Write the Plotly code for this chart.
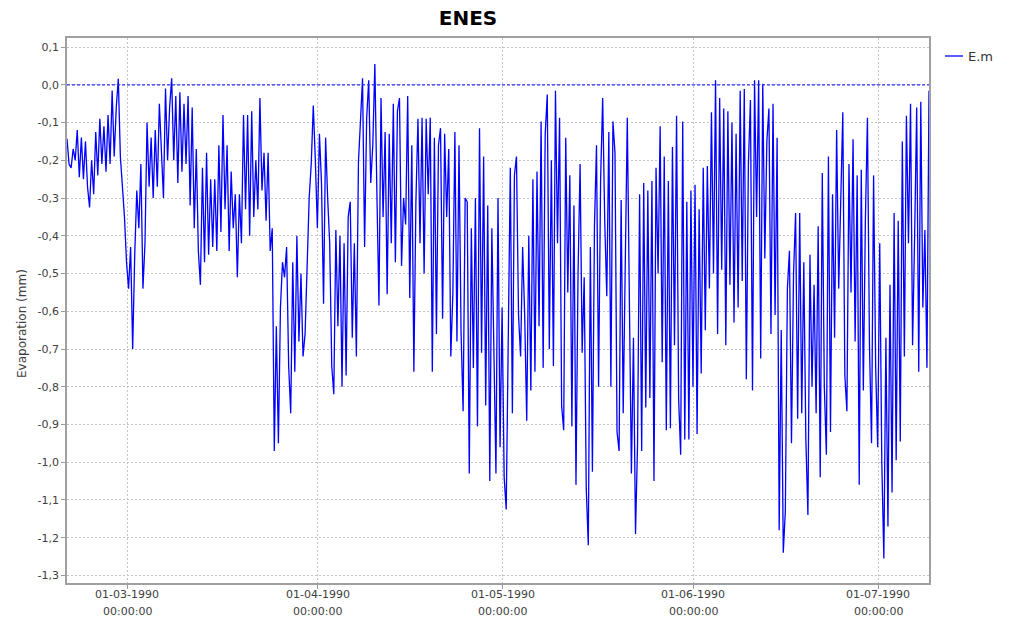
import pandas as pd
import plotly.graph_objects as go

# Evaporation series, one value every 8 hours
series_start = "1990-02-19 06:00"
step_hours = 8
series_name = "E.m"
chart_title = "ENES"
y_title = "Evaporation (mm)"

evap_mm = [
    -0.143, -0.21, -0.22, -0.17, -0.20, -0.12, -0.245, -0.14, -0.25, -0.15,
    -0.27, -0.325, -0.20, -0.29, -0.125, -0.24, -0.09, -0.21, -0.11, -0.23,
    -0.08, -0.21, -0.015, -0.19, -0.06, 0.016, -0.19, -0.26, -0.35, -0.47,
    -0.54, -0.43, -0.70, -0.45, -0.28, -0.38, -0.21, -0.54, -0.42, -0.10,
    -0.27, -0.14, -0.30, -0.12, -0.27, -0.05, -0.20, -0.30, -0.01, -0.20,
    -0.06, 0.017, -0.20, -0.03, -0.26, -0.02, -0.23, -0.05, -0.21, -0.03,
    -0.32, -0.06, -0.38, -0.17, -0.44, -0.53, -0.22, -0.47, -0.18, -0.45,
    -0.25, -0.43, -0.25, -0.44, -0.16, -0.39, -0.08, -0.33, -0.16, -0.44,
    -0.23, -0.38, -0.29, -0.51, -0.29, -0.42,
    # k = 86 ..
    -0.08, -0.33, -0.08, -0.40, -0.07, -0.35, -0.20, -0.33, -0.035, -0.28,
    -0.18, -0.36, -0.18, -0.44, -0.38, -0.97, -0.64, -0.95, -0.59, -0.47,
    -0.51, -0.43, -0.745, -0.87, -0.47, -0.76, -0.40, -0.68, -0.50, -0.72,
    -0.66, -0.47, -0.30, -0.21, -0.055, -0.20, -0.38, -0.13, -0.26, -0.58,
    -0.14, -0.30, -0.42, -0.745, -0.82, -0.385, -0.64, -0.40, -0.80, -0.42,
    -0.77, -0.35, -0.31, -0.67, -0.42, -0.72, -0.205, -0.095, 0.017, -0.43,
    -0.09, 0.012, -0.26, -0.16, 0.055, -0.29, -0.585, -0.035, -0.35, -0.125,
    -0.555, -0.13, -0.42, -0.05, -0.47, -0.07, -0.035, -0.48, -0.30, -0.37,
    -0.03, -0.565,
    # k = 168 ..
    -0.16, -0.76, -0.31, -0.09, -0.42, -0.087, -0.50, -0.09, -0.29, -0.087,
    -0.76, -0.14, -0.66, -0.16, -0.115, -0.62, -0.13, -0.35, -0.17, -0.72,
    -0.555, -0.125, -0.68, -0.16, -0.655, -0.865, -0.30, -0.31, -1.03, -0.38,
    -0.75, -0.30, -0.905, -0.115, -0.71, -0.19, -0.85, -0.32, -1.05, -0.38,
    -0.67, -1.03, -0.30, -0.96, -0.59, -1.04, -1.125, -0.60, -0.22, -0.87,
    -0.24, -0.19, -0.61, -0.72, -0.43, -0.61, -0.89, -0.40, -0.81, -0.25,
    -0.76, -0.23, -0.64, -0.097, -0.75, -0.13, -0.026, -0.70, -0.20, -0.745,
    -0.016, -0.42, -0.087, -0.85, -0.915, -0.14, -0.55, -0.24, -0.905, -0.32,
    -1.06, -0.50, -0.21,
    # k = 251 ..
    -0.71, -0.51, -1.07, -1.22, -0.43, -1.025, -0.375, -0.16, -0.80, -0.25,
    -0.035, -0.36, -0.56, -0.125, -0.80, -0.097, -0.18, -0.92, -0.97, -0.305,
    -0.87, -0.42, -0.087, -0.565, -1.03, -0.67, -1.19, -0.95, -0.29, -0.97,
    -0.26, -0.855, -0.28, -0.83, -0.255, -1.05, -0.22, -0.50, -0.11, -0.735,
    -0.19, -0.915, -0.255, -0.91, -0.165, -0.69, -0.082, -0.83, -0.98, -0.097,
    -0.94, -0.31, -0.94, -0.28, -0.80, -0.265, -0.925, -0.33, -0.765, -0.22,
    -0.65, -0.215, -0.54, -0.073, -0.50, 0.012, -0.66, -0.035, -0.49, -0.063,
    -0.69, -0.07, -0.53, -0.10, -0.63, -0.13, -0.59, -0.016, -0.52, -0.011,
    -0.78, -0.21, -0.04,
    # k = 334 ..
    -0.81, 0.012, -0.35, 0.012, -0.725, 0.003, -0.46, -0.15, -0.063, -0.66,
    -0.05, -0.61, -0.14, -1.18, -0.65, -1.24, -1.13, -0.54, -0.44, -0.95,
    -0.50, -0.34, -0.885, -0.34, -0.87, -0.47, -0.94, -1.14, -0.45, -0.80,
    -0.53, -0.87, -0.375, -1.04, -0.234, -0.80, -0.98, -0.19, -0.92, -0.29,
    -0.67, -0.12, -0.54, -0.26, -0.073, -0.77, -0.865, -0.21, -0.55, -0.144,
    -0.68, -0.24, -1.06, -0.225, -0.81, -0.36, -0.087, -0.69, -0.95, -0.24,
    -0.745, -0.96, -0.42, -1.00, -1.255, -0.67, -1.17, -0.53, -1.08, -0.34,
    -0.995, -0.36, -0.945, -0.15, -0.72, -0.082, -0.42, -0.05, -0.69, -0.40,
    -0.06, -0.76, -0.045, -0.59, -0.385, -0.75, -0.016,
]

# Axis ticks
y_tick_values = [0.1, 0.0, -0.1, -0.2, -0.3, -0.4, -0.5, -0.6, -0.7, -0.8, -0.9,
                 -1.0, -1.1, -1.2, -1.3]
y_tick_labels = ["0,1", "0,0", "-0,1", "-0,2", "-0,3", "-0,4", "-0,5", "-0,6",
                 "-0,7", "-0,8", "-0,9", "-1,0", "-1,1", "-1,2", "-1,3"]
x_tick_dates = ["1990-03-01", "1990-04-01", "1990-05-01", "1990-06-01", "1990-07-01"]
x_tick_day_labels = ["01-03-1990", "01-04-1990", "01-05-1990", "01-06-1990", "01-07-1990"]
x_tick_time_labels = ["00:00:00"] * len(x_tick_dates)

times = pd.date_range(series_start, periods=len(evap_mm), freq=f"{step_hours}h")

W, H = 1012, 622
ML, MR, MT, MB = 67, 83, 38, 39
plot_w = W - ML - MR
plot_h = H - MT - MB


def px_x(px):
    return (px - ML) / plot_w


def px_y(py):
    return (H - MB - py) / plot_h


FONT = "DejaVu Sans"
GRID = "#c4c4c4"
TICK_COLOR = "#404040"

fig = go.Figure()
fig.add_trace(go.Scatter(
    x=times, y=evap_mm, mode="lines", name=series_name,
    line=dict(color="#0000ff", width=1.3),
    showlegend=False,
))

fig.update_layout(
    width=W, height=H,
    margin=dict(l=ML, r=MR, t=MT, b=MB, pad=0),
    paper_bgcolor="white", plot_bgcolor="white",
    font=dict(family=FONT, size=11, color=TICK_COLOR),
    title=dict(text=chart_title, x=px_x(468), xref="paper", xanchor="center",
               y=1 - 18 / H, yref="container", yanchor="middle",
               font=dict(family=FONT, size=20, color="black", weight="bold")),
)

fig.update_xaxes(
    range=[times[0], times[-1]],
    tickmode="array", tickvals=x_tick_dates, showticklabels=False,
    ticks="outside", ticklen=4, tickcolor="#999999",
    showgrid=True, gridcolor=GRID, gridwidth=1, griddash="2px,2px",
    showline=True, linecolor="#a0a0a0", linewidth=1.5, mirror=True,
    zeroline=False,
)
fig.update_yaxes(
    range=[-1.32, 0.124],
    tickmode="array", tickvals=y_tick_values, ticktext=y_tick_labels,
    ticks="outside", ticklen=4, tickcolor="#999999",
    showgrid=True, gridcolor=GRID, gridwidth=1, griddash="2px,2px",
    showline=True, linecolor="#a0a0a0", linewidth=1.5, mirror=True,
    zeroline=False, tickfont=dict(size=11, color=TICK_COLOR),
)

# Two-line date / time labels under each month tick
for tick, day_lbl, time_lbl in zip(x_tick_dates, x_tick_day_labels, x_tick_time_labels):
    for lbl, py in ((day_lbl, 594), (time_lbl, 611)):
        fig.add_annotation(text=lbl, x=tick, xref="x", y=px_y(py), yref="paper",
                           xanchor="center", yanchor="middle", showarrow=False,
                           font=dict(family=FONT, size=11, color=TICK_COLOR))

# Dashed blue reference line at zero
fig.add_shape(type="line", xref="paper", yref="y", x0=0, x1=1, y0=0, y1=0,
              line=dict(color="#2f2fff", width=1.2, dash="3px,2px"), layer="above")

# Y axis title
fig.add_annotation(text=y_title, textangle=-90, xref="paper", yref="paper",
                   x=px_x(22), y=px_y(324), xanchor="center", yanchor="middle",
                   showarrow=False, font=dict(family=FONT, size=12, color=TICK_COLOR))

# Legend entry
fig.add_shape(type="line", xref="paper", yref="paper",
              x0=px_x(945), x1=px_x(963), y0=px_y(56), y1=px_y(56),
              line=dict(color="#0000ff", width=1.3))
fig.add_annotation(text=series_name, xref="paper", yref="paper",
                   x=px_x(966), y=px_y(56), xanchor="left", yanchor="middle",
                   showarrow=False, font=dict(family=FONT, size=13, color="#333333"))

fig.write_html("out.html")
